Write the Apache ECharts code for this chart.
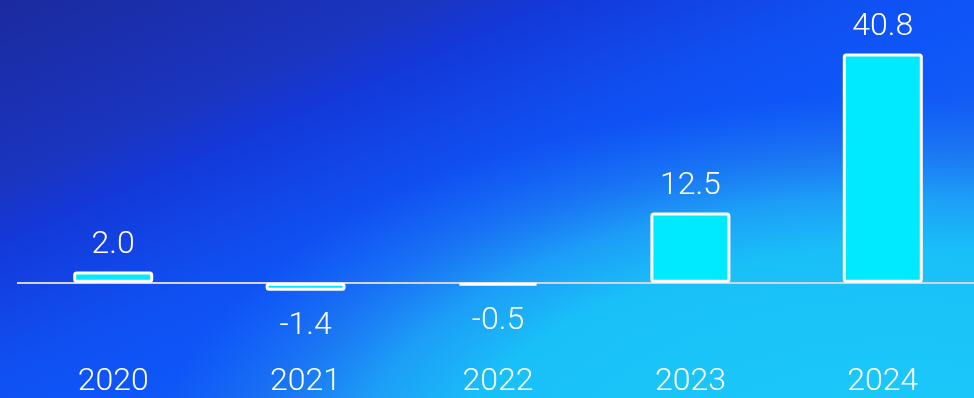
<!DOCTYPE html>
<html>
<head>
<meta charset="utf-8">
<script src="https://cdn.jsdelivr.net/npm/echarts@6/dist/echarts.min.js"></script>
<style>
html,body{margin:0;padding:0;overflow:hidden;width:974px;height:398px;}
#chart{width:979px;height:398px;}
</style>
</head>
<body>
<div id="chart"></div>
<script>
var categories = ['2020', '2021', '2022', '2023', '2024'];
var values = [2.0, -1.4, -0.5, 12.5, 40.8];

var chart = echarts.init(document.getElementById('chart'), null, {renderer: 'canvas'});
var fontFamily = 'Roboto, "Noto Sans", sans-serif';

var option = {
  backgroundColor: {
    type: 'linear', global: true,
    x: 0, y: 0, x2: 302, y2: 695,
    colorStops: [
      {offset: 0, color: '#1B2A9E'},
      {offset: 0.225, color: '#1A35C0'},
      {offset: 0.29, color: '#1438D8'},
      {offset: 0.45, color: '#1050F2'},
      {offset: 0.53, color: '#0E55F8'},
      {offset: 1, color: '#2074EE'}
    ]
  },
  graphic: [{
    type: 'rect',
    z: -10,
    silent: true,
    scaleX: 2,
    shape: {x: 0, y: 0, width: 490, height: 398},
    style: {
      fill: {
        type: 'radial', global: true,
        x: 450, y: 470, r: 374,
        colorStops: [
          {offset: 0, color: 'rgba(28,203,250,1)'},
          {offset: 0.59, color: 'rgba(25,192,248,1)'},
          {offset: 0.73, color: 'rgba(30,170,248,0.85)'},
          {offset: 0.86, color: 'rgba(35,145,240,0.45)'},
          {offset: 1, color: 'rgba(35,130,240,0)'}
        ]
      }
    }
  }],
  animation: false,
  grid: {left: 17, right: 0, top: 30, bottom: 39},
  xAxis: {
    type: 'category',
    data: categories,
    position: 'bottom',
    axisLine: {show: false, onZero: false},
    axisTick: {show: false},
    axisLabel: {color: '#ffffff', fontSize: 32, fontWeight: 300, fontFamily: fontFamily, margin: 13}
  },
  yAxis: {
    type: 'value',
    min: -12.5,
    max: 45,
    show: false,
    splitLine: {show: false}
  },
  series: [{
    type: 'bar',
    barWidth: 80,
    data: values.map(function (v) {
      return {
        value: v,
        label: {position: v < 0 ? 'bottom' : 'top', distance: v < 0 ? 19 : 11}
      };
    }),
    itemStyle: {color: '#00EAFF', borderColor: '#ffffff', borderWidth: 3, borderRadius: 2},
    label: {
      show: true,
      color: '#ffffff',
      fontSize: 32,
      fontWeight: 300,
      fontFamily: fontFamily,
      formatter: function (p) { return p.value.toFixed(1); }
    },
    markLine: {
      silent: true,
      symbol: 'none',
      label: {show: false},
      lineStyle: {color: '#d4d4d4', width: 2, type: 'solid'},
      data: [{yAxis: 0}],
      z: 1
    },
    z: 3
  }]
};
chart.setOption(option);
</script>
</body>
</html>
